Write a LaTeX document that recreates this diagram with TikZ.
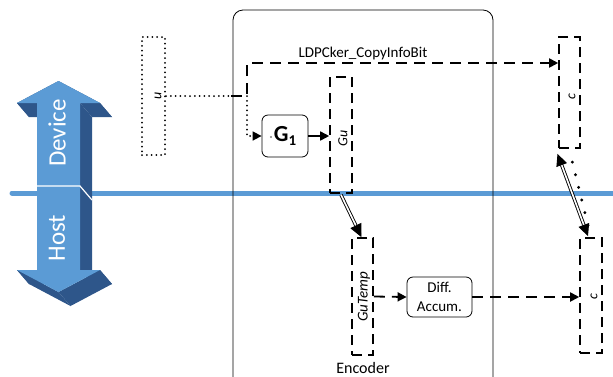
\documentclass[tikz,border=0pt]{standalone}
\usepackage{fontspec}
\setmainfont{Carlito}
\usetikzlibrary{arrows.meta,calc}
\definecolor{hostblue}{RGB}{91,155,213}
\definecolor{darkblue}{RGB}{46,86,138}
\begin{document}
\begin{tikzpicture}[x=1pt,y=-1pt,
  dbox/.style={draw, line width=1.6pt, dash pattern=on 10pt off 6pt, inner sep=0pt},
  dotbox/.style={draw, line width=2pt, dash pattern=on 0pt off 4.8pt, line cap=round, inner sep=0pt},
  rbox/.style={draw, rounded corners=6pt, line width=0.8pt, fill=white, inner sep=0pt},
  vlbl/.style={rotate=90, font=\itshape\fontsize{14}{14}\selectfont, inner sep=0pt},
  tip/.style={-{Triangle[length=9pt,width=9pt]}},
  solidarrow/.style={line width=1.6pt, tip},
  dashconn/.style={line width=1.8pt, dash pattern=on 11pt off 7pt, tip},
  dotconn/.style={line width=2pt, dash pattern=on 0pt off 4.8pt, line cap=round},
  bigdots/.style={line width=3.2pt, dash pattern=on 0pt off 13pt, line cap=round},
  dblarrow/.style={double, double distance=1.6pt, line width=0.9pt}
]
\useasboundingbox (0,0) rectangle (613,376);

% separator line device / host
\draw[hostblue, line width=5pt, line cap=round] (12,193) -- (613,193);

% 3D double arrow
\coordinate (A) at (58.5,81);
\coordinate (B) at (100,103);
\coordinate (C) at (80,103);
\coordinate (D) at (80,270);
\coordinate (E) at (100,270);
\coordinate (F) at (58.5,292);
\coordinate (G) at (17,270);
\coordinate (H) at (37,270);
\coordinate (I) at (37,103);
\coordinate (J) at (17,103);
\foreach \p/\q in {A/B,B/C,C/D,D/E,E/F,F/G,G/H,H/I,I/J,J/A}{
  \fill[darkblue] (\p) -- (\q) -- ($(\q)+(12,14)$) -- ($(\p)+(12,14)$) -- cycle;
}
\fill[hostblue] (A) -- (B) -- (C) -- (D) -- (E) -- (F) -- (G) -- (H) -- (I) -- (J) -- cycle;
\draw[white, line width=1.2pt] (37,186) -- (80,186) -- (92,200);
\node[rotate=90, text=white, font=\fontsize{25}{25}\selectfont] (dev) at (57,133) {Device};
\node[rotate=90, text=white, font=\fontsize{25}{25}\selectfont] (host) at (57,238) {Host};

% encoder frame
\draw[line width=0.8pt, rounded corners=10pt] (233,10) rectangle (493,395);
\node[anchor=base, font=\fontsize{16}{16}\selectfont] (enc) at (363,373) {Encoder};
\node[anchor=base, font=\fontsize{15}{15}\selectfont] (ldpc) at (363,57) {LDPCker\_CopyInfoBit};

% data boxes
\node[dotbox, minimum width=23pt, minimum height=118pt] (u) at (153.5,96) {};
\node[vlbl] (ul) at (158,96) {u};
\node[dbox, minimum width=22pt, minimum height=116pt] (gu) at (341,135) {};
\node[vlbl] (gul) at (343,138) {Gu};
\node[dbox, minimum width=21pt, minimum height=117pt] (gt) at (362.5,296.5) {};
\node[vlbl, font=\itshape\fontsize{15}{15}\selectfont] (gtl) at (364,297) {GuTemp};
\node[dbox, minimum width=21pt, minimum height=111pt] (c1) at (569.5,92.5) {};
\node[vlbl] (c1l) at (572,97) {c};
\node[dbox, minimum width=22pt, minimum height=115pt] (c2) at (591,295.5) {};
\node[vlbl] (c2l) at (594,297) {c};

% kernels
\node[rbox, minimum width=46pt, minimum height=42pt] (g1) at (285,136)
  {\fontsize{23}{23}\selectfont\bfseries G\raisebox{-0.3ex}{\fontsize{15}{15}\selectfont 1}};
\fill[gray] (271,137) circle (1.1);
\node[rbox, minimum width=65pt, minimum height=40pt, align=center,
  font=\fontsize{15}{19}\selectfont] (diff) at (439.5,297) {Diff.\\Accum.};

% connectors
\coordinate (js) at (231,96);
\coordinate (j) at (247,96);
\coordinate (jt) at (247,63);
\draw[dotconn] (u.east) -- (js);
\draw[dashconn] (js) -- (j) -- (jt) -- (jt -| c1.west);
\draw[dotconn] (j) -- (j |- g1.west) -- ([xshift=-8pt]g1.west);
\draw[-{Triangle[length=9pt,width=9pt]}, line width=1.6pt] ([xshift=-9pt]g1.west) -- (g1.west);
\draw[solidarrow] (g1.east) -- (g1.east -| gu.west);
\draw[dblarrow, -{Triangle[length=13pt,width=12pt]}] ($(gu.south)+(0,1)$) -- ($(gt.north)+(-1,0)$);
\draw[dashconn] (gt.east) -- (diff.west);
\draw[dashconn] (diff.east) -- (diff.east -| c2.west);
\draw[dblarrow, {Triangle[length=12pt,width=11pt]}-{Triangle[length=12pt,width=11pt]}]
  ($(c2.north)+(-3,-1)$) -- ($(c1.south)+(-12,5)$);
\draw[bigdots] ($(c2.north)+(-3,-12)$) -- ($(c1.south)+(2,10)$);
\end{tikzpicture}
\end{document}
